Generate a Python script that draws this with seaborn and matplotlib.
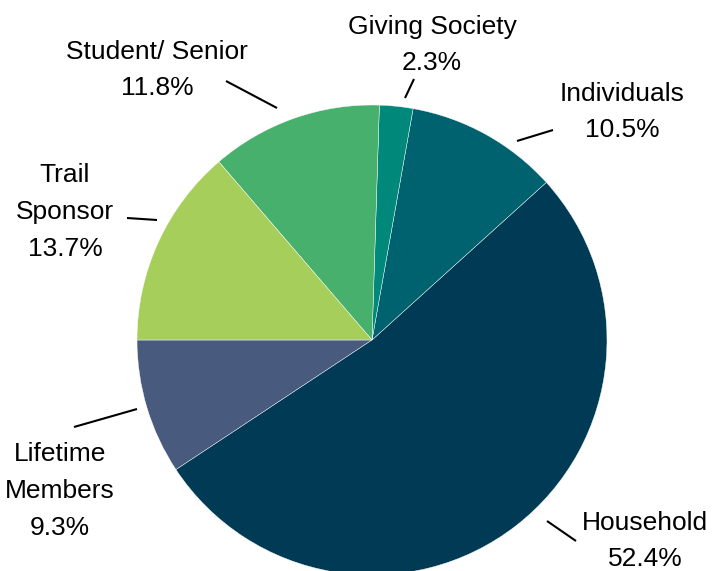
import matplotlib.pyplot as plt
import seaborn as sns

# membership shares (percent), in drawing order (counter-clockwise from 180 deg)
categories = ["Lifetime\nMembers", "Household", "Individuals",
              "Giving Society", "Student/ Senior", "Trail\nSponsor"]
shares = [9.3, 52.4, 10.5, 2.3, 11.8, 13.7]
colors = ["#485A7E", "#003A55", "#00616F", "#00897A", "#46B06C", "#A5CE5A"]

sns.set_theme(style="white")
plt.rcParams["font.family"] = ["Liberation Sans", "DejaVu Sans"]

# pie centre / radius in pixels of the 712x571 canvas
CX, CY, R = 372, 340, 235


def px(x, y):
    """Pixel position -> data coords of the unit pie."""
    return (x - CX) / R, (CY - y) / R


fig = plt.figure(figsize=(7.12, 5.71), dpi=100)
ax = fig.add_axes([0, 0, 1, 1])
ax.pie(
    shares,
    colors=colors,
    startangle=180,
    counterclock=True,
    radius=1,
    wedgeprops={"edgecolor": "white", "linewidth": 0.3},
)

# label text centres and leader lines (pixels)
label_pos = [(60, 491), (645, 541), (622, 112), (432, 45), (157, 70), (65, 212)]
leaders = [
    ((74, 427), (137, 409)),
    ((547, 521), (576, 541)),
    ((517, 141), (553, 130)),
    ((405, 98), (414, 79)),
    ((226, 81), (277, 108)),
    ((127, 218), (157, 220)),
]

for name, pct, (tx, ty), (p0, p1) in zip(categories, shares, label_pos, leaders):
    x, y = px(tx, ty)
    ax.text(x, y, f"{name}\n{pct:.1f}%", ha="center", va="center",
            fontsize=19, color="black", linespacing=1.66)
    a = px(*p0)
    b = px(*p1)
    ax.plot([a[0], b[0]], [a[1], b[1]], color="black", lw=1.5,
            solid_capstyle="butt")

ax.set_xlim(-CX / R, (712 - CX) / R)
ax.set_ylim((CY - 571) / R, CY / R)
ax.set_aspect("equal")
ax.axis("off")

fig.savefig("out.png", dpi=100)
